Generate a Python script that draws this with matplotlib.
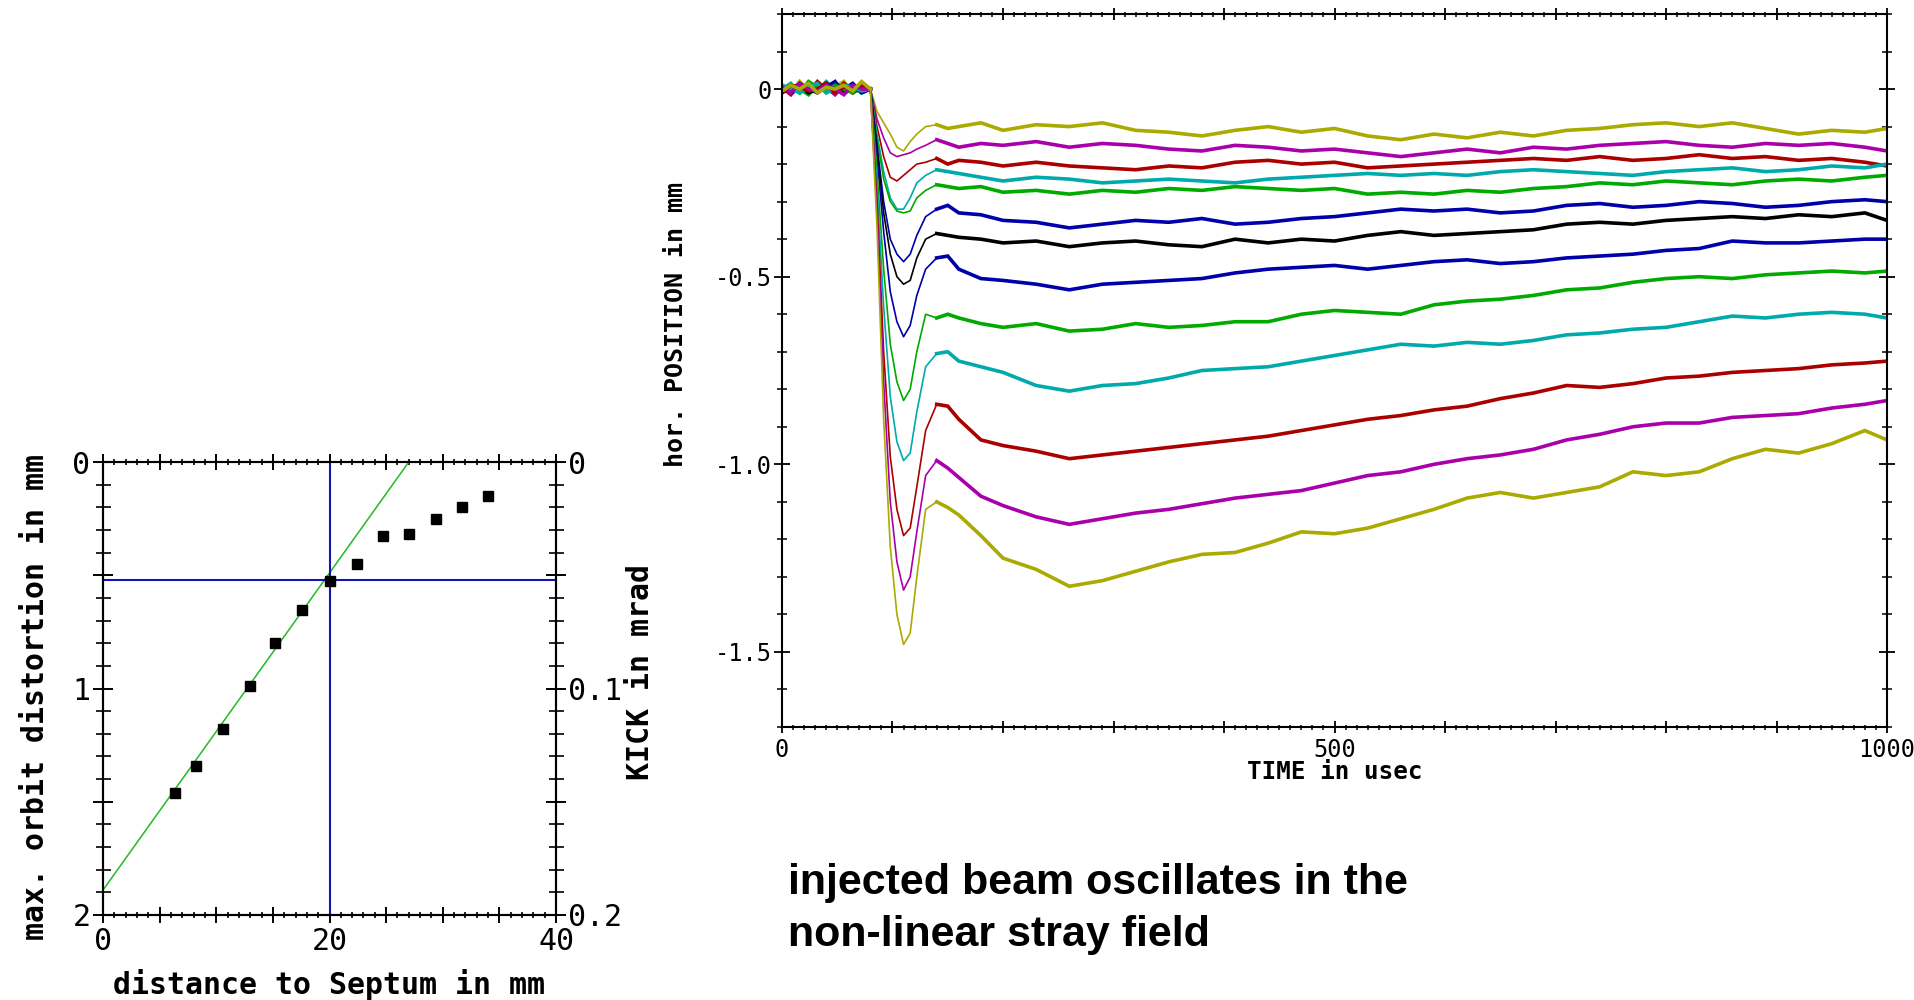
import matplotlib
matplotlib.use("Agg")
import matplotlib.pyplot as plt
from matplotlib.ticker import MultipleLocator, FixedLocator, FixedFormatter

plt.rcParams["font.family"] = ["DejaVu Sans Mono"]

# --- Left plot: max. orbit distortion vs distance to septum ---
dist_mm = [6.4, 8.2, 10.6, 13.0, 15.2, 17.6, 20.0, 22.4, 24.7, 27.0, 29.4, 31.7, 34.0]
orbit_mm = [1.46, 1.34, 1.18, 0.99, 0.80, 0.655, 0.525, 0.45, 0.325, 0.32, 0.25, 0.20, 0.15]
fit_x = [0.0, 27.0]
fit_y = [1.89, 0.0]
cut_dist = 20.0
cut_orbit = 0.52

# --- Right plot: horizontal position traces (mm) vs time (usec) ---
time_us = [0, 8, 16, 24, 32, 40, 48, 56, 64, 72, 80,
           86, 92, 98, 104, 110, 116, 122, 130, 140, 150, 160,
           180, 200,
           230, 260, 290, 320, 350, 380, 410, 440, 470, 500,
           530, 560, 590, 620, 650, 680, 710, 740, 770, 800,
           830, 860, 890, 920, 950, 980, 1000]

pos_olive_1 = [0.01, -0.01, 0.02, -0.005, 0.015, -0.01, 0.005, 0.02, -0.01, 0.01, 0.0,
               -0.06, -0.09, -0.12, -0.155, -0.165, -0.14, -0.12, -0.10, -0.095, -0.105, -0.10,
               -0.09, -0.11,
               -0.095, -0.10, -0.09, -0.11, -0.115, -0.125, -0.11, -0.10, -0.115, -0.105,
               -0.125, -0.135, -0.12, -0.13, -0.115, -0.125, -0.11, -0.105, -0.095, -0.09,
               -0.10, -0.09, -0.105, -0.12, -0.11, -0.115, -0.105]
pos_magenta_2 = [-0.01, 0.01, 0.0, 0.015, -0.01, 0.005, -0.015, 0.01, 0.0, -0.005, 0.0,
                 -0.08, -0.13, -0.17, -0.18, -0.175, -0.17, -0.16, -0.15, -0.135, -0.145, -0.155,
                 -0.145, -0.15,
                 -0.14, -0.155, -0.145, -0.15, -0.16, -0.165, -0.15, -0.155, -0.165, -0.16,
                 -0.17, -0.18, -0.17, -0.16, -0.17, -0.155, -0.16, -0.15, -0.145, -0.14,
                 -0.15, -0.155, -0.145, -0.15, -0.145, -0.155, -0.165]
pos_red_3 = [0.005, -0.015, 0.01, -0.01, 0.02, 0.0, -0.01, 0.015, -0.005, 0.01, 0.0,
             -0.10, -0.18, -0.235, -0.245, -0.23, -0.215, -0.20, -0.195, -0.185, -0.20, -0.19,
             -0.195, -0.205,
             -0.195, -0.205, -0.21, -0.215, -0.205, -0.21, -0.195, -0.19, -0.20, -0.195,
             -0.21, -0.205, -0.20, -0.195, -0.19, -0.185, -0.19, -0.18, -0.19, -0.185,
             -0.175, -0.185, -0.18, -0.19, -0.185, -0.195, -0.205]
pos_cyan_4 = [0.0, 0.015, -0.01, 0.005, -0.005, 0.02, 0.0, -0.01, 0.01, 0.005, 0.0,
              -0.12, -0.22, -0.29, -0.32, -0.32, -0.29, -0.25, -0.23, -0.215, -0.22, -0.225,
              -0.235, -0.245,
              -0.235, -0.24, -0.25, -0.245, -0.24, -0.245, -0.25, -0.24, -0.235, -0.23,
              -0.225, -0.23, -0.225, -0.23, -0.22, -0.215, -0.22, -0.225, -0.23, -0.22,
              -0.215, -0.21, -0.22, -0.215, -0.205, -0.21, -0.20]
pos_green_5 = [-0.005, 0.01, 0.0, -0.015, 0.01, 0.0, 0.015, -0.005, 0.005, -0.01, 0.0,
               -0.13, -0.24, -0.30, -0.325, -0.33, -0.325, -0.29, -0.27, -0.255, -0.26, -0.265,
               -0.26, -0.275,
               -0.27, -0.28, -0.27, -0.275, -0.265, -0.27, -0.26, -0.265, -0.27, -0.265,
               -0.28, -0.275, -0.28, -0.27, -0.275, -0.265, -0.26, -0.25, -0.255, -0.245,
               -0.25, -0.255, -0.245, -0.24, -0.245, -0.235, -0.23]
pos_blue_6 = [0.01, -0.005, 0.015, 0.0, -0.01, 0.01, -0.005, 0.0, 0.015, -0.01, 0.0,
              -0.15, -0.30, -0.40, -0.44, -0.46, -0.44, -0.39, -0.34, -0.32, -0.31, -0.33,
              -0.335, -0.35,
              -0.355, -0.37, -0.36, -0.35, -0.355, -0.345, -0.36, -0.355, -0.345, -0.34,
              -0.33, -0.32, -0.325, -0.32, -0.33, -0.325, -0.31, -0.305, -0.315, -0.31,
              -0.30, -0.305, -0.315, -0.31, -0.30, -0.295, -0.30]
pos_black_7 = [-0.01, 0.005, 0.01, -0.01, 0.0, 0.015, -0.005, 0.01, -0.01, 0.005, 0.0,
               -0.16, -0.33, -0.44, -0.50, -0.52, -0.51, -0.45, -0.40, -0.385, -0.39, -0.395,
               -0.40, -0.41,
               -0.405, -0.42, -0.41, -0.405, -0.415, -0.42, -0.40, -0.41, -0.40, -0.405,
               -0.39, -0.38, -0.39, -0.385, -0.38, -0.375, -0.36, -0.355, -0.36, -0.35,
               -0.345, -0.34, -0.345, -0.335, -0.34, -0.33, -0.35]
pos_blue_8 = [0.005, -0.01, 0.0, 0.01, -0.005, 0.005, 0.02, -0.01, 0.0, 0.01, 0.0,
              -0.18, -0.38, -0.54, -0.62, -0.66, -0.63, -0.55, -0.48, -0.45, -0.445, -0.48,
              -0.505, -0.51,
              -0.52, -0.535, -0.52, -0.515, -0.51, -0.505, -0.49, -0.48, -0.475, -0.47,
              -0.48, -0.47, -0.46, -0.455, -0.465, -0.46, -0.45, -0.445, -0.44, -0.43,
              -0.425, -0.405, -0.41, -0.41, -0.405, -0.40, -0.40]
pos_green_9 = [0.0, 0.01, -0.01, 0.02, 0.005, -0.005, 0.01, 0.0, -0.01, 0.015, 0.0,
               -0.22, -0.48, -0.68, -0.78, -0.83, -0.80, -0.70, -0.60, -0.61, -0.60, -0.61,
               -0.625, -0.635,
               -0.625, -0.645, -0.64, -0.625, -0.635, -0.63, -0.62, -0.62, -0.60, -0.59,
               -0.595, -0.60, -0.575, -0.565, -0.56, -0.55, -0.535, -0.53, -0.515, -0.505,
               -0.50, -0.505, -0.495, -0.49, -0.485, -0.49, -0.485]
pos_cyan_10 = [0.01, 0.0, -0.01, 0.005, 0.015, -0.01, 0.0, 0.01, 0.005, -0.005, 0.0,
               -0.26, -0.58, -0.82, -0.94, -0.99, -0.97, -0.86, -0.74, -0.705, -0.70, -0.725,
               -0.74, -0.755,
               -0.79, -0.805, -0.79, -0.785, -0.77, -0.75, -0.745, -0.74, -0.725, -0.71,
               -0.695, -0.68, -0.685, -0.675, -0.68, -0.67, -0.655, -0.65, -0.64, -0.635,
               -0.62, -0.605, -0.61, -0.60, -0.595, -0.60, -0.61]
pos_red_11 = [-0.01, 0.01, 0.005, -0.005, 0.0, 0.015, -0.01, 0.005, 0.0, 0.01, 0.0,
              -0.30, -0.70, -0.98, -1.12, -1.19, -1.17, -1.06, -0.91, -0.84, -0.845, -0.88,
              -0.935, -0.95,
              -0.965, -0.985, -0.975, -0.965, -0.955, -0.945, -0.935, -0.925, -0.91, -0.895,
              -0.88, -0.87, -0.855, -0.845, -0.825, -0.81, -0.79, -0.795, -0.785, -0.77,
              -0.765, -0.755, -0.75, -0.745, -0.735, -0.73, -0.725]
pos_magenta_12 = [0.005, -0.01, 0.015, 0.0, -0.005, 0.01, 0.0, -0.015, 0.01, 0.0, 0.0,
                  -0.33, -0.78, -1.10, -1.26, -1.335, -1.30, -1.18, -1.03, -0.99, -1.01, -1.035,
                  -1.085, -1.11,
                  -1.14, -1.16, -1.145, -1.13, -1.12, -1.105, -1.09, -1.08, -1.07, -1.05,
                  -1.03, -1.02, -1.00, -0.985, -0.975, -0.96, -0.935, -0.92, -0.90, -0.89,
                  -0.89, -0.875, -0.87, -0.865, -0.85, -0.84, -0.83]
pos_olive_13 = [-0.005, 0.01, 0.0, 0.015, -0.01, 0.005, 0.0, 0.01, -0.005, 0.02, 0.0,
                -0.37, -0.88, -1.22, -1.40, -1.48, -1.45, -1.30, -1.12, -1.10, -1.115, -1.135,
                -1.19, -1.25,
                -1.28, -1.325, -1.31, -1.285, -1.26, -1.24, -1.235, -1.21, -1.18, -1.185,
                -1.17, -1.145, -1.12, -1.09, -1.075, -1.09, -1.075, -1.06, -1.02, -1.03,
                -1.02, -0.985, -0.96, -0.97, -0.945, -0.91, -0.935]

traces = [pos_olive_1, pos_magenta_2, pos_red_3, pos_cyan_4, pos_green_5, pos_blue_6,
          pos_black_7, pos_blue_8, pos_green_9, pos_cyan_10, pos_red_11, pos_magenta_12,
          pos_olive_13]
trace_colors = ["#aaaa00", "#aa00aa", "#aa0000", "#00aaaa", "#00aa00", "#0000aa",
                "#000000", "#0000aa", "#00aa00", "#00aaaa", "#aa0000", "#aa00aa",
                "#aaaa00"]

caption_lines = ["injected beam oscillates in the", "non-linear stray field"]

W, H = 1915, 1000
fig = plt.figure(figsize=(W / 100, H / 100), dpi=100)

# --- Left panel ---
ax1 = fig.add_axes([103 / W, 1 - 915 / H, 453 / W, 453 / H])
ax1.plot(fit_x, fit_y, color="#22b822", lw=1.1, zorder=2)
ax1.axvline(cut_dist, color="#1414b4", lw=1.5, zorder=2)
ax1.axhline(cut_orbit, color="#1414b4", lw=1.5, zorder=2)
ax1.plot(dist_mm, orbit_mm, "s", color="black", markersize=6.5, zorder=3)
ax1.set_xlim(0, 40)
ax1.set_ylim(2, 0)

ax1.xaxis.set_major_locator(FixedLocator([0, 5, 10, 15, 20, 25, 30, 35, 40]))
ax1.xaxis.set_major_formatter(FixedFormatter(["0", "", "", "", "20", "", "", "", "40"]))
ax1.xaxis.set_minor_locator(MultipleLocator(1))
ax1.yaxis.set_major_locator(FixedLocator([0, 0.5, 1, 1.5, 2]))
ax1.yaxis.set_major_formatter(FixedFormatter(["0", "", "1", "", "2"]))
ax1.yaxis.set_minor_locator(MultipleLocator(0.1))
ax1.tick_params(axis="x", which="major", direction="inout", length=11.5, width=1.4,
                top=True, labelsize=21.5, pad=2.9)
ax1.tick_params(axis="x", which="minor", direction="inout", length=4.3, width=1.2, top=True)
ax1.tick_params(axis="y", which="major", direction="inout", length=14.4, width=1.4,
                labelsize=21.5, pad=1.8)
ax1.tick_params(axis="y", which="minor", direction="inout", length=10.8, width=1.2)

ax1r = ax1.twinx()
ax1r.set_ylim(0.2, 0)
ax1r.yaxis.set_major_locator(FixedLocator([0, 0.05, 0.1, 0.15, 0.2]))
ax1r.yaxis.set_major_formatter(FixedFormatter(["0", "", "0.1", "", "0.2"]))
ax1r.yaxis.set_minor_locator(MultipleLocator(0.01))
ax1r.tick_params(axis="y", which="major", direction="inout", length=14.4, width=1.4,
                 labelsize=21.5, pad=1.4)
ax1r.tick_params(axis="y", which="minor", direction="inout", length=10.8, width=1.2)

for a in (ax1, ax1r):
    for s in a.spines.values():
        s.set_linewidth(1.5)

fig.text(36 / W, 1 - 697 / H, "max. orbit distortion in mm", rotation=90,
         ha="center", va="center", fontsize=21.5, fontweight="bold")
fig.text(641 / W, 1 - 672 / H, "KICK in mrad", rotation=90,
         ha="center", va="center", fontsize=21.5, fontweight="bold")
fig.text(329 / W, 1 - 985 / H, "distance to Septum in mm",
         ha="center", va="center", fontsize=21.5, fontweight="bold")

# --- Right panel ---
ax2 = fig.add_axes([782 / W, 1 - 727 / H, 1105 / W, 713 / H])
# thin line through the kick, heavier line where the trace is a noisy band
early = [i for i, t in enumerate(time_us) if t <= 80]
slow = [i for i, t in enumerate(time_us) if t >= 140]
for vals, col in zip(traces, trace_colors):
    ax2.plot(time_us, vals, color=col, lw=1.2)
    for idx in (early, slow):
        ax2.plot([time_us[i] for i in idx], [vals[i] for i in idx],
                 color=col, lw=2.6, solid_joinstyle="miter")
ax2.set_xlim(0, 1000)
ax2.set_ylim(-1.7, 0.2)

ax2.xaxis.set_major_locator(FixedLocator([0, 100, 200, 300, 400, 500, 600, 700, 800, 900, 1000]))
ax2.xaxis.set_major_formatter(FixedFormatter(["0", "", "", "", "", "500", "", "", "", "", "1000"]))
ax2.xaxis.set_minor_locator(MultipleLocator(10))
ax2.yaxis.set_major_locator(FixedLocator([0, -0.5, -1.0, -1.5]))
ax2.yaxis.set_major_formatter(FixedFormatter(["0", "-0.5", "-1.0", "-1.5"]))
ax2.yaxis.set_minor_locator(MultipleLocator(0.1))
ax2.tick_params(axis="x", which="major", direction="inout", length=8.6, width=1.3,
                top=True, labelsize=17, pad=3.6)
ax2.tick_params(axis="x", which="minor", direction="inout", length=3.6, width=1.1, top=True)
ax2.tick_params(axis="y", which="major", direction="inout", length=11.2, width=1.3,
                right=True, labelsize=17, pad=1.6)
ax2.tick_params(axis="y", which="minor", direction="inout", length=7.2, width=1.1, right=True)
for s in ax2.spines.values():
    s.set_linewidth(1.5)

fig.text(676 / W, 1 - 324 / H, "hor. POSITION in mm", rotation=90,
         ha="center", va="center", fontsize=18, fontweight="bold")
fig.text(1335 / W, 1 - 772 / H, "TIME in usec",
         ha="center", va="center", fontsize=17.5, fontweight="bold")

# --- Caption ---
for k, line in enumerate(caption_lines):
    fig.text(788 / W, 1 - (894 + 52 * k) / H, line, ha="left", va="baseline",
             fontsize=31, fontweight="bold", family=["Liberation Sans", "DejaVu Sans"])

fig.savefig("out.png", dpi=100)
